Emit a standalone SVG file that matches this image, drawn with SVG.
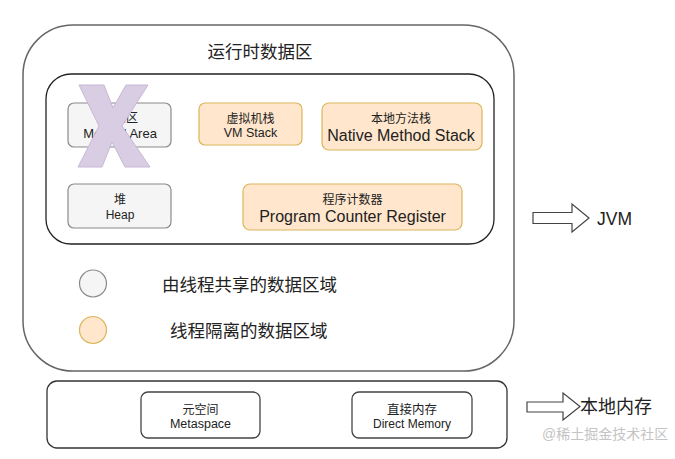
<svg xmlns="http://www.w3.org/2000/svg" width="675" height="459" viewBox="0 0 675 459">
<style>
text{font-family:"Liberation Sans","Noto Sans CJK SC",sans-serif;fill:#222;text-anchor:middle;dominant-baseline:central}
.gray{fill:#f5f5f5;stroke:#8a8a8a;stroke-width:1.2}
.orange{fill:#ffe6cc;stroke:#dcb65a;stroke-width:1.2}
.plain{fill:#fff;stroke:#444;stroke-width:1.3}
.s{font-size:12px}
.l{font-size:16px}
.big{font-size:17.5px}
.arrow{fill:#fff;stroke:#444;stroke-width:1.2}
</style>
<rect width="675" height="459" fill="#fff"/>
<g id="runtime-area">
<rect x="23" y="25" width="491" height="346" rx="50" ry="50" fill="#fff" stroke="#666" stroke-width="1.5"/>
<text class="big" x="260" y="52">运行时数据区</text>
</g>
<g id="inner-area">
<rect x="46" y="74" width="448" height="170" rx="25" ry="25" fill="#fff" stroke="#222" stroke-width="1.3"/>
</g>
<g id="method-area">
<rect class="gray" x="68" y="103" width="103" height="44" rx="6"/>
<text class="s" x="120" y="118">方法区</text>
<text x="120" y="133" font-size="13">Method Area</text>
</g>
<g id="cross">
<polygon points="79,85 104,85 113,108 126,85 148,85 122,126 150,167 125,167 112,142 102,167 78,167 99,126" fill="#d8cde3" stroke="#c7b8d6" stroke-width="1"/>
</g>
<g id="vm-stack">
<rect class="orange" x="199" y="103" width="103" height="42" rx="6"/>
<text class="s" x="250.5" y="119">虚拟机栈</text>
<text x="250.5" y="133" font-size="12.5">VM Stack</text>
</g>
<g id="native-stack">
<rect class="orange" x="322" y="103" width="160" height="47" rx="7"/>
<text class="s" x="401" y="119">本地方法栈</text>
<text class="l" x="401" y="135">Native Method Stack</text>
</g>
<g id="heap">
<rect class="gray" x="68" y="184" width="103" height="44" rx="6"/>
<text class="s" x="120" y="200">堆</text>
<text class="s" x="120" y="215">Heap</text>
</g>
<g id="pc-register">
<rect class="orange" x="243" y="184" width="219" height="46" rx="7"/>
<text class="s" x="352.5" y="200">程序计数器</text>
<text class="l" x="352.5" y="216">Program Counter Register</text>
</g>
<g id="legend-shared">
<circle class="gray" cx="93" cy="283.5" r="13.5"/>
<text class="big" x="162" y="285" style="text-anchor:start">由线程共享的数据区域</text>
</g>
<g id="legend-isolated">
<circle class="orange" cx="93" cy="330" r="13.5"/>
<text class="big" x="170" y="331" style="text-anchor:start">线程隔离的数据区域</text>
</g>
<g id="native-memory">
<rect x="47" y="381" width="460" height="67" rx="10" fill="#fff" stroke="#333" stroke-width="1.3"/>
</g>
<g id="metaspace">
<rect class="plain" x="141" y="392" width="119" height="46" rx="7"/>
<text class="s" x="200.5" y="410">元空间</text>
<text x="200.5" y="424" font-size="12.5">Metaspace</text>
</g>
<g id="direct-memory">
<rect class="plain" x="352" y="392" width="120" height="46" rx="7"/>
<text x="412" y="410" font-size="12.5">直接内存</text>
<text class="s" x="412" y="424">Direct Memory</text>
</g>
<g id="connectors">
<polygon class="arrow" points="533,212.5 572,212.5 572,204 589,218 572,232 572,223.5 533,223.5"/>
<polygon class="arrow" points="527,402 563,402 563,393 580,406.5 563,420 563,412 527,412"/>
</g>
<g id="jvm-label">
<text x="597" y="219" font-size="17.5" style="text-anchor:start">JVM</text>
</g>
<g id="native-label">
<text x="580" y="407" font-size="18" style="text-anchor:start">本地内存</text>
</g>
<text x="542" y="434" font-size="14" style="text-anchor:start;fill:#c4c4c4">@稀土掘金技术社区</text>
</svg>
